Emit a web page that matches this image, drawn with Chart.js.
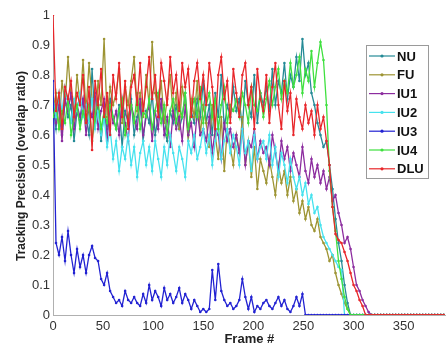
<!DOCTYPE html>
<html>
<head>
<meta charset="utf-8">
<script src="https://cdn.jsdelivr.net/npm/chart.js@4.4.1/dist/chart.umd.min.js"></script>
<style>
html,body{margin:0;padding:0;background:#fff;overflow:hidden;}
#wrap{width:447px;height:347px;}
</style>
</head>
<body>
<div id="wrap"><canvas id="c" width="447" height="347"></canvas></div>
<script>
// Frame numbers (x values)
const frames = [0,3,6,9,12,15,18,21,24,27,30,33,36,39,42,45,48,51,54,57,60,63,66,69,72,75,78,81,84,87,90,93,96,99,102,105,108,111,114,117,120,123,126,129,132,135,138,141,144,147,150,153,156,159,162,165,168,171,174,177,180,183,186,189,192,195,198,201,204,207,210,213,216,219,222,225,228,231,234,237,240,243,246,249,252,255,258,261,264,267,270,273,276,279,282,285,288,291,294,297,300,303,306,309,312,315,318,321,324,327,330,333,336,339,342,345,348,351,354,357,360,363,366,369,372,375,378,381,384,387,390];

const seriesNames = ["NU","FU","IU1","IU2","IU3","IU4","DLU"];

const NU = [0.70,0.62,0.74,0.60,0.72,0.66,0.70,0.58,0.68,0.64,0.72,
0.66,0.60,0.82,0.64,0.70,0.58,0.68,0.62,0.72,0.66,
0.62,0.70,0.56,0.68,0.64,0.72,0.60,0.66,0.70,0.58,
0.68,0.64,0.74,0.60,0.66,0.70,0.62,0.58,0.68,0.64,
0.70,0.62,0.66,0.74,0.60,0.68,0.64,0.72,0.66,0.78,
0.64,0.70,0.60,0.74,0.66,0.80,0.62,0.70,0.66,0.76,
0.68,0.72,0.62,0.78,0.70,0.66,0.80,0.64,0.74,0.70,
0.76,0.68,0.82,0.70,0.78,0.74,0.84,0.72,0.80,0.76,
0.86,0.78,0.92,0.80,0.84,0.74,0.70,0.64,0.60,0.56,
0.58,0.50,0.42,0.32,0.24,0.18,0.10,0.04,0,0,
0,0,0,0,0,0,
0,0,0,0,0,0,0,0,0,0,0,0,0,0,0,0,0,0,0,0,0,0,0,0];

const FU = [0.68,0.74,0.62,0.78,0.70,0.86,0.72,0.66,0.80,0.70,0.85,
0.68,0.84,0.72,0.64,0.78,0.70,0.92,0.66,0.76,0.70,
0.74,0.82,0.64,0.76,0.70,0.78,0.86,0.68,0.74,0.66,
0.80,0.70,0.91,0.74,0.68,0.78,0.64,0.72,0.80,0.66,
0.74,0.62,0.76,0.70,0.58,0.72,0.66,0.78,0.60,0.70,
0.64,0.56,0.70,0.60,0.52,0.66,0.48,0.62,0.56,0.50,
0.60,0.54,0.66,0.50,0.58,0.46,0.56,0.42,0.52,0.48,
0.44,0.52,0.46,0.40,0.50,0.44,0.48,0.40,0.46,0.38,
0.42,0.34,0.38,0.32,0.36,0.30,0.28,0.32,0.26,0.24,
0.22,0.18,0.20,0.14,0.10,0.07,0.04,0.02,0,0,
0,0,0,0,0,0,
0,0,0,0,0,0,0,0,0,0,0,0,0,0,0,0,0,0,0,0,0,0,0,0];

const IU1 = [0.72,0.64,0.70,0.58,0.72,0.68,0.74,0.62,0.70,0.66,0.72,
0.60,0.70,0.66,0.74,0.62,0.68,0.72,0.58,0.70,0.64,
0.68,0.60,0.72,0.64,0.58,0.70,0.66,0.62,0.72,0.60,
0.66,0.70,0.58,0.68,0.62,0.72,0.60,0.66,0.56,0.68,
0.62,0.66,0.58,0.70,0.60,0.64,0.56,0.68,0.60,0.62,
0.58,0.66,0.54,0.62,0.60,0.52,0.64,0.58,0.62,0.56,
0.60,0.54,0.62,0.50,0.58,0.56,0.62,0.52,0.58,0.54,
0.56,0.50,0.60,0.54,0.48,0.58,0.52,0.56,0.48,0.54,
0.50,0.46,0.56,0.48,0.44,0.52,0.46,0.50,0.44,0.48,
0.42,0.46,0.38,0.40,0.34,0.30,0.24,0.26,0.22,0.16,
0.10,0.08,0.05,0.03,0.01,0,
0,0,0,0,0,0,0,0,0,0,0,0,0,0,0,0,0,0,0,0,0,0,0,0];

const IU2 = [0.72,0.66,0.74,0.68,0.76,0.70,0.64,0.72,0.68,0.74,0.66,
0.70,0.64,0.72,0.62,0.68,0.60,0.66,0.56,0.62,0.52,
0.58,0.48,0.56,0.52,0.60,0.50,0.56,0.46,0.54,0.58,
0.50,0.56,0.48,0.58,0.52,0.46,0.56,0.50,0.60,0.54,
0.48,0.56,0.52,0.46,0.58,0.54,0.60,0.52,0.56,0.62,
0.54,0.60,0.50,0.58,0.64,0.52,0.58,0.62,0.54,0.60,
0.56,0.50,0.62,0.54,0.58,0.48,0.60,0.52,0.56,0.58,
0.52,0.60,0.50,0.56,0.46,0.54,0.50,0.44,0.52,0.46,
0.42,0.46,0.40,0.44,0.37,0.40,0.34,0.36,0.30,0.26,
0.24,0.22,0.20,0.18,0.16,0.15,0,0,0,0,
0,0,0,0,0,0,
0,0,0,0,0,0,0,0,0,0,0,0,0,0,0,0,0,0,0,0,0,0,0,0];

const IU3 = [0.78,0.24,0.20,0.26,0.18,0.28,0.20,0.14,0.22,0.16,0.20,
0.14,0.20,0.23,0.19,0.18,0.12,0.10,0.14,0.08,0.06,
0.04,0.05,0.03,0.08,0.05,0.04,0.06,0.04,0.03,0.07,
0.04,0.10,0.05,0.08,0.06,0.03,0.09,0.05,0.07,0.04,
0.06,0.09,0.04,0.07,0.05,0.02,0.05,0.03,0.01,0.02,
0.01,0.02,0.15,0.05,0.17,0.08,0.05,0.03,0.04,0.02,
0.03,0.05,0.12,0.06,0.02,0.06,0.01,0.03,0.02,0.04,
0.05,0.03,0.02,0.04,0.06,0.03,0.05,0.02,0.01,0.03,
0.06,0.03,0.07,0,0,0,0,0,0,0,
0,0,0,0,0,0,0,0,0,0,
0,0,0,0,0,0,
0,0,0,0,0,0,0,0,0,0,0,0,0,0,0,0,0,0,0,0,0,0,0,0];

const IU4 = [0.66,0.70,0.62,0.68,0.64,0.72,0.60,0.66,0.70,0.62,0.68,
0.64,0.70,0.58,0.66,0.72,0.62,0.68,0.64,0.70,0.66,
0.62,0.68,0.72,0.60,0.66,0.70,0.64,0.74,0.62,0.68,
0.66,0.72,0.62,0.68,0.74,0.64,0.70,0.60,0.68,0.72,
0.64,0.70,0.66,0.74,0.62,0.68,0.72,0.66,0.76,0.64,
0.70,0.74,0.66,0.72,0.62,0.70,0.76,0.64,0.70,0.68,
0.72,0.66,0.74,0.70,0.64,0.76,0.70,0.68,0.74,0.66,
0.72,0.78,0.70,0.76,0.82,0.72,0.78,0.74,0.84,0.76,
0.80,0.86,0.74,0.82,0.78,0.88,0.76,0.84,0.91,0.85,
0.70,0.48,0.36,0.28,0.18,0.12,0.06,0.02,0,0,
0,0,0,0,0,0,
0,0,0,0,0,0,0,0,0,0,0,0,0,0,0,0,0,0,0,0,0,0,0,0];

const DLU = [1.0,0.68,0.74,0.62,0.76,0.72,0.78,0.66,0.74,0.70,0.80,
0.64,0.76,0.55,0.78,0.70,0.82,0.66,0.74,0.60,0.80,
0.72,0.84,0.66,0.78,0.62,0.76,0.80,0.70,0.84,0.68,
0.76,0.86,0.72,0.80,0.66,0.84,0.78,0.70,0.86,0.74,
0.80,0.68,0.84,0.76,0.82,0.66,0.78,0.84,0.72,0.80,
0.70,0.84,0.76,0.62,0.80,0.86,0.72,0.78,0.64,0.82,
0.74,0.66,0.80,0.84,0.70,0.76,0.62,0.82,0.72,0.68,
0.80,0.64,0.76,0.84,0.70,0.62,0.78,0.68,0.74,0.60,
0.72,0.66,0.62,0.70,0.64,0.68,0.60,0.70,0.62,0.66,
0.58,0.50,0.36,0.27,0.25,0.24,0.21,0.18,0.14,0.10,
0.08,0.05,0.03,0,0,0,
0,0,0,0,0,0,0,0,0,0,0,0,0,0,0,0,0,0,0,0,0,0,0,0];

const yTicks = [0,0.1,0.2,0.3,0.4,0.5,0.6,0.7,0.8,0.9,1];
const xTicks = [0,50,100,150,200,250,300,350];
const yTitle = 'Tracking Precision (overlap ratio)';

const colors = ["#248a96","#9d9433","#8c2c9f","#45e2ee","#2222d2","#3ee03e","#e8262a"];
const allSeries = [NU,FU,IU1,IU2,IU3,IU4,DLU];

const datasets = allSeries.map((vals, k) => ({
  label: seriesNames[k],
  data: frames.map((f, i) => ({x: f, y: vals[i]})),
  borderColor: colors[k],
  backgroundColor: colors[k],
  borderWidth: 1.3,
  pointRadius: 1.3,
  pointHoverRadius: 1.3,
  pointBorderWidth: 0,
  tension: 0,
  order: 7 - k
}));

const FONT = '"Liberation Sans", Arial, sans-serif';

const legendPlugin = {
  id: 'boxLegend',
  afterDraw(chart) {
    const ctx = chart.ctx;
    // y-axis title
    ctx.save();
    ctx.translate(22, 166);
    ctx.rotate(-Math.PI / 2);
    ctx.font = 'bold 12px ' + FONT;
    ctx.fillStyle = '#222';
    ctx.textAlign = 'center';
    ctx.textBaseline = 'middle';
    ctx.fillText(yTitle, 0, 0);
    ctx.restore();

    const bx = 366, by = 45, bw = 62, bh = 133;
    ctx.save();
    ctx.fillStyle = '#fff';
    ctx.fillRect(bx, by, bw, bh);
    ctx.strokeStyle = '#9a9a9a';
    ctx.lineWidth = 1;
    ctx.strokeRect(bx + 0.5, by + 0.5, bw, bh);
    ctx.font = 'bold 13px ' + FONT;
    ctx.textBaseline = 'middle';
    ctx.textAlign = 'left';
    chart.data.datasets.forEach((ds, k) => {
      const y = by + 11 + k * 18.8;
      ctx.strokeStyle = ds.borderColor;
      ctx.lineWidth = 1.2;
      ctx.beginPath();
      ctx.moveTo(bx + 3, y);
      ctx.lineTo(bx + 29, y);
      ctx.stroke();
      ctx.fillStyle = ds.borderColor;
      ctx.beginPath();
      ctx.arc(bx + 16, y, 1.6, 0, Math.PI * 2);
      ctx.fill();
      ctx.fillStyle = '#111';
      ctx.fillText(ds.label, bx + 31, y + 1);
    });
    ctx.restore();
  }
};

new Chart(document.getElementById('c'), {
  type: 'line',
  data: { datasets },
  options: {
    responsive: false,
    animation: false,
    layout: { padding: { top: 15, right: 0, left: 0, bottom: 0 } },
    plugins: {
      legend: { display: false },
      tooltip: { enabled: false }
    },
    scales: {
      x: {
        type: 'linear',
        min: 0,
        max: 392,
        afterFit(s) { s.height = 32; },
        afterBuildTicks(s) { s.ticks = xTicks.map(v => ({value: v})); },
        grid: { display: false, drawTicks: false },
        border: { display: true, color: '#b0b0b0', width: 1 },
        ticks: {
          padding: 4,
          color: '#333',
          font: { family: FONT, size: 13 },
          maxRotation: 0,
          callback: v => String(v)
        },
        title: {
          display: true,
          text: 'Frame #',
          color: '#222',
          font: { family: FONT, size: 13, weight: 'bold' },
          padding: { top: 0, bottom: 0 }
        }
      },
      y: {
        min: 0,
        max: 1,
        afterFit(s) { s.width = 53; },
        afterBuildTicks(s) { s.ticks = yTicks.map(v => ({value: v})); },
        grid: { display: false, drawTicks: false },
        border: { display: true, color: '#b0b0b0', width: 1 },
        ticks: {
          padding: 3,
          color: '#333',
          font: { family: FONT, size: 13 },
          callback: v => String(+v.toFixed(1))
        },
        title: { display: false }
      }
    }
  },
  plugins: [legendPlugin]
});
</script>
</body>
</html>
